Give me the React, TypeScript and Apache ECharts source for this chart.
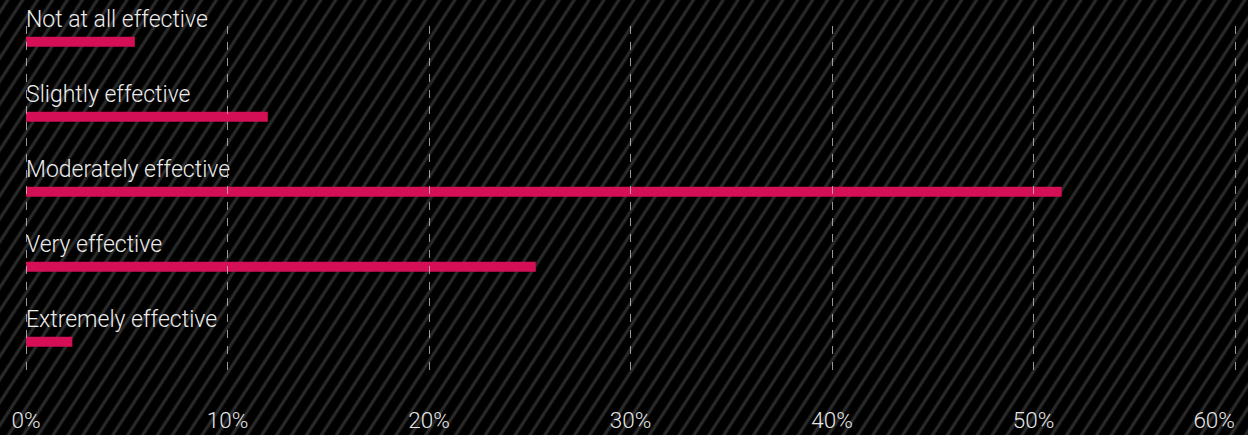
import React, { useEffect, useRef } from "react";
import * as echarts from "echarts";

const categories = [
  "Not at all effective",
  "Slightly effective",
  "Moderately effective",
  "Very effective",
  "Extremely effective",
];
const values = [5.4, 12.0, 51.4, 25.3, 2.3];
const tickMin = 0;
const tickMax = 60;
const tickStep = 10;

export default function App() {
  const ref = useRef<HTMLDivElement>(null);
  useEffect(() => {
    if (!ref.current) return;
    const chart = echarts.init(ref.current, undefined, { renderer: "svg" });
    const font = "Roboto, 'Helvetica Neue', Arial, sans-serif";
    chart.setOption({
      animation: false,
      backgroundColor: "transparent",
      grid: [
        { left: 26, right: 13, top: 4.2, bottom: 55.8, outerBoundsMode: "none", containLabel: false },
        { left: 26, right: 13, top: 26, bottom: 61, outerBoundsMode: "none", containLabel: false },
      ],
      xAxis: [
        {
          gridIndex: 0,
          type: "value",
          min: tickMin,
          max: tickMax,
          interval: tickStep,
          show: false,
        },
        {
          gridIndex: 1,
          type: "value",
          min: tickMin,
          max: tickMax,
          interval: tickStep,
          z: 5,
          axisLine: { show: false },
          axisTick: { show: false },
          splitLine: {
            show: true,
            lineStyle: { color: "rgba(190,190,190,0.8)", width: 1, type: [8, 8] },
          },
          axisLabel: {
            formatter: "{value}%",
            color: "#e6e6e6",
            fontFamily: font,
            fontWeight: 300,
            fontSize: 22.5,
            margin: 34,
            hideOverlap: false,
            alignMaxLabel: "right",
          },
        },
      ],
      yAxis: [
        {
          gridIndex: 0,
          type: "category",
          data: categories,
          inverse: true,
          show: false,
        },
        {
          gridIndex: 1,
          type: "category",
          data: categories,
          show: false,
        },
      ],
      series: [
        {
          type: "bar",
          xAxisIndex: 0,
          yAxisIndex: 0,
          data: values,
          barWidth: 10,
          itemStyle: { color: "#d40f56" },
          label: {
            show: true,
            position: [0, -17],
            align: "left",
            verticalAlign: "middle",
            formatter: (p: any) => p.name,
            color: "#ececec",
            fontFamily: font,
            fontWeight: 300,
            fontSize: 23,
          },
        },
      ],
    });
    return () => chart.dispose();
  }, []);
  return (
    <div
      style={{
        position: "absolute",
        left: 0,
        top: 0,
        width: 1248,
        height: 435,
        background:
          "repeating-linear-gradient(123deg, #000 0px, #000 4px, #222 5.5px, #2e2e2e 6.5px, #222 7.5px, #000 9px, #000 12.5px)",
      }}
    >
      <div ref={ref} style={{ width: 1248, height: 435 }} />
    </div>
  );
}
